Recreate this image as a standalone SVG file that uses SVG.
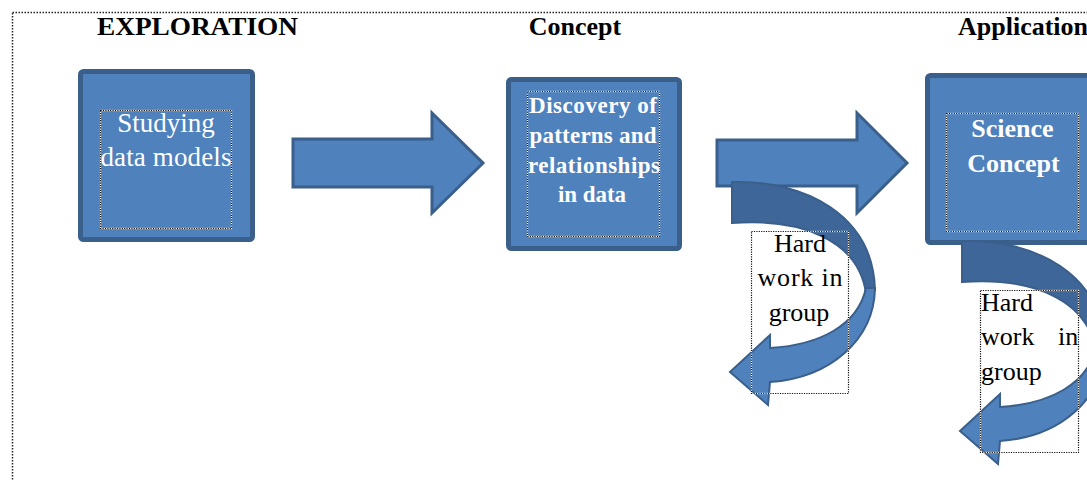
<svg xmlns="http://www.w3.org/2000/svg" width="1087" height="480" viewBox="0 0 1087 480">
<style>
.frame{fill:none;stroke:#222;stroke-width:1.5;stroke-dasharray:1.5 1.5}
.box{fill:#4F81BD;stroke:#3A5F8B;stroke-width:5}
.arrow{fill:#4F81BD;stroke:#3A5F8B;stroke-width:3;stroke-linejoin:miter}
.back{fill:#3F6698;stroke:#3A5F8B;stroke-width:2}
.front{fill:#4F81BD;stroke:#3A5F8B;stroke-width:2}
.dotw{fill:none;stroke:#fff;stroke-width:1.2}
.dotk{fill:none;stroke:#111;stroke-width:1.2;stroke-dasharray:1.2 1.2}
.title{font-family:"Liberation Serif","Times New Roman",serif;font-weight:bold;font-size:26px;fill:#000}
.wt{font-family:"Liberation Serif","Times New Roman",serif;font-size:27px;fill:#fff;text-anchor:middle}
.wb{font-family:"Liberation Serif","Times New Roman",serif;font-weight:bold;fill:#fff;text-anchor:middle}
.bk{font-family:"Liberation Serif","Times New Roman",serif;font-size:26px;fill:#000}
</style>
<defs>
<g id="curved">
<path class="back" d="M 732 182 C 805 180 873 215 875 290 L 866 293 C 858 240 802 218 732 223 Z"/>
<path class="front" d="M 875 288 C 874 340 830 378 770 382 L 768 405 L 730 372 L 770 335 L 770 348 C 820 345 858 325 866 288 Z"/>
</g>
</defs>
<rect class="frame" x="12.5" y="12.5" width="1100" height="500"/>
<g id="titles">
<text class="title" x="197.5" y="35" text-anchor="middle" textLength="201" lengthAdjust="spacingAndGlyphs">EXPLORATION</text>
<text class="title" x="575" y="35" text-anchor="middle">Concept</text>
<text class="title" x="958" y="35">Application</text>
</g>
<g id="connectors">
<path class="arrow" d="M 293 139 L 432 139 L 432 113 L 483 163 L 432 213 L 432 187 L 293 187 Z"/>
<path class="arrow" d="M 717 140 L 857 140 L 857 113 L 907 163 L 857 213 L 857 186 L 717 186 Z"/>
</g>
<g id="node-exploration">
<rect class="box" x="80.5" y="71.5" width="172" height="168" rx="3"/>
<rect class="dotw" x="100.5" y="110.5" width="131" height="118"/>
<rect class="dotk" x="100.5" y="110.5" width="131" height="118"/>
<text class="wt" x="166" y="132">Studying</text>
<text class="wt" x="166" y="166" textLength="131" lengthAdjust="spacing">data models</text>
</g>
<g id="node-discovery">
<rect class="box" x="508.5" y="79.5" width="171" height="169" rx="3"/>
<rect class="dotw" x="527.5" y="91.5" width="132" height="145"/>
<rect class="dotk" x="527.5" y="91.5" width="132" height="145"/>
<text class="wb" x="593" y="113" font-size="23" textLength="128" lengthAdjust="spacing">Discovery of</text>
<text class="wb" x="593" y="143" font-size="23" textLength="127" lengthAdjust="spacing">patterns and</text>
<text class="wb" x="594" y="173" font-size="23" textLength="132" lengthAdjust="spacing">relationships</text>
<text class="wb" x="592" y="202" font-size="23" textLength="68" lengthAdjust="spacing">in data</text>
</g>
<g id="node-science">
<rect class="box" x="927.5" y="75.5" width="172" height="167" rx="3"/>
<rect class="dotw" x="946.5" y="113.5" width="132" height="118"/>
<rect class="dotk" x="946.5" y="113.5" width="132" height="118"/>
<text class="wb" x="1012.5" y="137" font-size="26">Science</text>
<text class="wb" x="1013.5" y="172" font-size="26">Concept</text>
</g>
<g id="loop-1">
<use href="#curved"/>
<rect class="dotw" x="751.5" y="231.5" width="97" height="162"/>
<rect class="dotk" x="751.5" y="231.5" width="97" height="162"/>
<text class="bk" x="800" y="252" text-anchor="middle">Hard</text>
<text class="bk" x="800" y="286" text-anchor="middle" textLength="85" lengthAdjust="spacing">work in</text>
<text class="bk" x="799" y="321" text-anchor="middle">group</text>
</g>
<g id="loop-2">
<use href="#curved" transform="translate(230 59)"/>
<rect class="dotw" x="980.5" y="290.5" width="98" height="162"/>
<rect class="dotk" x="980.5" y="290.5" width="98" height="162"/>
<text class="bk" x="981" y="311">Hard</text>
<text class="bk" y="345"><tspan x="981">work</tspan><tspan x="1058">in</tspan></text>
<text class="bk" x="981" y="380">group</text>
</g>
</svg>
